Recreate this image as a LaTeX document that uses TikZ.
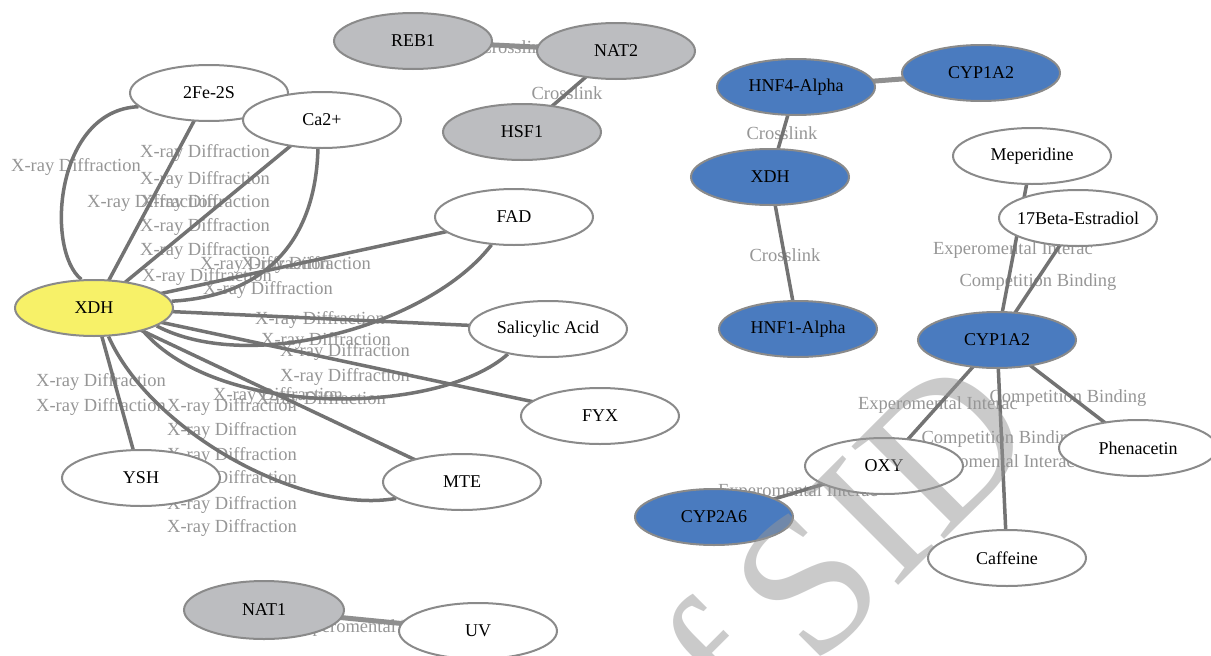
\documentclass[tikz,border=0pt]{standalone}
\usepackage{fontspec}
\setmainfont{Liberation Serif}
\usetikzlibrary{shapes.geometric}
\definecolor{bd}{RGB}{138,138,138}
\definecolor{edgec}{RGB}{115,115,115}
\definecolor{labc}{RGB}{150,150,150}
\definecolor{gfill}{RGB}{188,189,192}
\definecolor{bfill}{RGB}{74,123,191}
\definecolor{yfill}{RGB}{247,241,104}
\definecolor{wmc}{RGB}{150,150,150}
\newcommand{\nt}[1]{\makebox[0pt]{#1}}
\tikzset{
  x=1pt, y=-1pt,
  nd/.style={ellipse, draw=bd, line width=2pt, fill=white, minimum width=158pt,
    minimum height=56pt, inner sep=0pt, text=black, font=\fontsize{18}{20}\selectfont},
  gn/.style={nd, fill=gfill},
  bn/.style={nd, fill=bfill},
  yn/.style={nd, fill=yfill},
  ph/.style={nd, draw=none, fill=none},
  lab/.style={text=labc, inner sep=0pt, font=\fontsize{18.5}{20}\selectfont},
  edge/.style={draw=edgec, line width=3.5pt},
  thick edge/.style={draw=edgec!80, line width=5pt},
}
\begin{document}
\begin{tikzpicture}
\useasboundingbox (0,0) rectangle (1211,656);
% labels (drawn beneath edges and nodes)
\foreach \px/\py in {76/167,205/153,205/180,152/203,205/203,205/227,205/251,265/265,306/265,207/277,268/290,320/320,326/341,345/352,345/377,278/396,321/400,101/382,101/407,232/407,232/431,232/456,232/479,232/505,232/528}
  \node[lab] at (\px,\py) {X-ray Diffraction};
\node[lab] (l1) at (515,47) {Crosslink};
\node[lab] (l2) at (567,93) {Crosslink};
\node[lab] (l3) at (782,133) {Crosslink};
\node[lab] (l4) at (785,255) {Crosslink};
\node[lab] (l5) at (1013,250) {Experomental Interac};
\node[lab] (l6) at (938,405) {Experomental Interac};
\node[lab] (l7) at (995,463) {Experomental Interac};
\node[lab] (l8) at (798,492) {Experomental Interac};
\node[lab] (l9) at (372,628) {Experomental Interac};
\node[lab] (l10) at (1038,282) {Competition Binding};
\node[lab] (l11) at (1068,398) {Competition Binding};
\node[lab] (l12) at (1000,439) {Competition Binding};
% node places (for the connectors)
\node[ph] (fe) at (209,93) {};
\node[ph] (ca) at (322,120) {};
\node[ph] (fad) at (514,217) {};
\node[ph] (xdhL) at (94,308) {};
\node[ph] (sal) at (548,329) {};
\node[ph] (fyx) at (600,416) {};
\node[ph] (ysh) at (141,478) {};
\node[ph] (mte) at (462,482) {};
\node[ph] (nat1) at (264,610) {};
\node[ph] (uv) at (478,631) {};
\node[ph] (reb) at (413,41) {};
\node[ph] (nat2) at (616,51) {};
\node[ph] (hsf) at (522,132) {};
\node[ph] (hnf4) at (796,87) {};
\node[ph] (cypT) at (981,73) {};
\node[ph] (xdhB) at (770,177) {};
\node[ph] (hnf1) at (798,329) {};
\node[ph] (mep) at (1032,156) {};
\node[ph] (beta) at (1078,218) {};
\node[ph] (cypR) at (997,340) {};
\node[ph] (phen) at (1138,448) {};
\node[ph] (oxy) at (884,466) {};
\node[ph] (cyp2) at (714,517) {};
\node[ph] (caff) at (1007,558) {};
% edges
\foreach \t in {fe,ca,fad,sal,fyx,mte,ysh}
  \draw[edge] (xdhL.center) -- (\t.center);
\draw[edge] (fe.191) .. controls (55,110) and (45,250) .. (xdhL.114);
\draw[edge] (ca.262) .. controls (316,225) and (280,295) .. (xdhL.5);
\draw[edge] (fad.231) .. controls (430,325) and (250,375) .. (xdhL.344);
\draw[edge] (sal.212) .. controls (440,415) and (220,420) .. (xdhL.335);
\draw[edge] (mte.194) .. controls (300,515) and (150,430) .. (xdhL.297);
\draw[thick edge] (reb.center) -- (nat2.center);
\draw[edge] (nat2.center) -- (hsf.center);
\draw[thick edge] (hnf4.center) -- (cypT.center);
\draw[edge] (hnf4.center) -- (xdhB.center);
\draw[edge] (xdhB.center) -- (hnf1.center);
\draw[edge] (mep.center) -- (cypR.center);
\draw[edge] (beta.center) -- (cypR.center);
\draw[edge] (cypR.center) -- (oxy.center);
\draw[edge] (cypR.center) -- (caff.center);
\draw[edge] (cypR.center) -- (phen.center);
\draw[edge] (oxy.center) -- (cyp2.center);
\draw[thick edge] (nat1.center) -- (uv.center);
% visible nodes
\node[nd] at (fe) {\nt{2Fe-2S}};
\node[nd] at (ca) {\nt{Ca2+}};
\node[nd] at (fad) {\nt{FAD}};
\node[yn] at (xdhL) {\nt{XDH}};
\node[nd] at (sal) {\nt{Salicylic Acid}};
\node[nd] at (fyx) {\nt{FYX}};
\node[nd] at (ysh) {\nt{YSH}};
\node[nd] at (mte) {\nt{MTE}};
\node[gn, minimum width=160pt, minimum height=58pt] at (nat1) {\nt{NAT1}};
\node[nd] at (uv) {\nt{UV}};
\node[gn] at (reb) {\nt{REB1}};
\node[gn] at (nat2) {\nt{NAT2}};
\node[gn] at (hsf) {\nt{HSF1}};
\node[bn] at (hnf4) {\nt{HNF4-Alpha}};
\node[bn] at (cypT) {\nt{CYP1A2}};
\node[bn] at (xdhB) {\nt{XDH}};
\node[bn] at (hnf1) {\nt{HNF1-Alpha}};
\node[nd] at (mep) {\nt{Meperidine}};
\node[nd] at (beta) {\nt{17Beta-Estradiol}};
\node[bn] at (cypR) {\nt{CYP1A2}};
\node[nd] at (phen) {\nt{Phenacetin}};
\node[nd] at (oxy) {\nt{OXY}};
\node[bn] at (cyp2) {\nt{CYP2A6}};
\node[nd] at (caff) {\nt{Caffeine}};
% watermark
\begin{scope}
\clip (0,0) rectangle (1211,656);
\node[rotate=45, anchor=base east, inner sep=0pt, text=wmc, text opacity=0.5,
  font=\fontsize{200}{200}\selectfont] (wm) at (1043,441) {of\,SID};
\end{scope}
\end{tikzpicture}
\end{document}
